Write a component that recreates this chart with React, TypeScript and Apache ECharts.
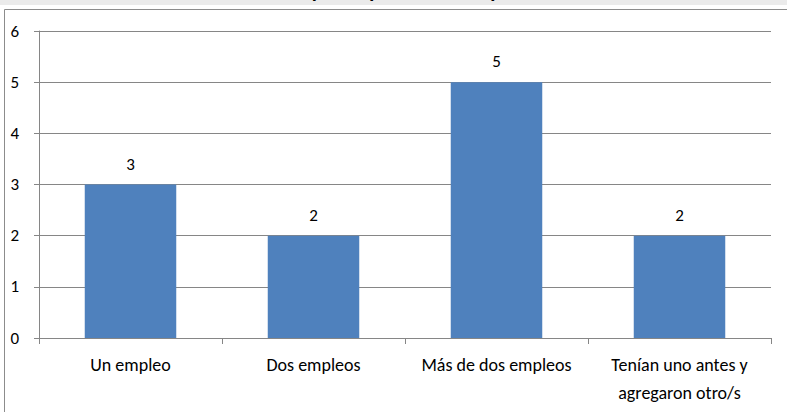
import React, { useEffect, useRef } from "react";
import * as echarts from "echarts";

const categories = [
  "Un empleo",
  "Dos empleos",
  "Más de dos empleos",
  "Tenían uno antes y\nagregaron otro/s",
];
const values = [3, 2, 5, 2];
const titleText = "Cantidad de empleos que tienen las personas";

const FONT = "Carlito, Calibri, Lato, 'Noto Sans', sans-serif";

export default function App() {
  const ref = useRef<HTMLDivElement>(null);
  useEffect(() => {
    document.body.style.margin = "0";
    const chart = echarts.init(ref.current!, undefined, { renderer: "svg" });
    chart.setOption({
      animation: false,
      backgroundColor: "#ffffff",
      graphic: [
        { type: "rect", shape: { x: 0, y: 0, width: 787, height: 5 }, style: { fill: "#ebebeb" }, z: -10 },
        {
          type: "rect",
          shape: { x: 4.5, y: 9.5, width: 800, height: 500 },
          style: { fill: "none", stroke: "#8c8c8c", lineWidth: 1 },
          z: -5,
        },
        {
          type: "text",
          x: 372,
          y: 1,
          style: {
            text: titleText,
            font: `bold 21px ${FONT}`,
            fill: "#000",
            align: "center",
            verticalAlign: "bottom",
          },
        },
      ],
      grid: { left: 39, right: 16, top: 31, bottom: 74, containLabel: false },
      xAxis: {
        type: "category",
        data: categories,
        axisLine: { show: true, lineStyle: { color: "#868686", width: 1 } },
        axisTick: { show: true, length: 6, alignWithLabel: false, lineStyle: { color: "#868686" } },
        axisLabel: {
          color: "#000",
          fontSize: 18,
          fontFamily: FONT,
          margin: 13,
          lineHeight: 28,
          interval: 0,
        },
        splitLine: { show: false },
      },
      yAxis: {
        type: "value",
        min: 0,
        max: 6,
        interval: 1,
        axisLine: { show: true, lineStyle: { color: "#868686", width: 1 } },
        axisTick: { show: true, length: 5, lineStyle: { color: "#868686" } },
        axisLabel: { color: "#000", fontSize: 17, fontFamily: FONT, margin: 20 },
        splitLine: { show: true, lineStyle: { color: "#868686", width: 1 } },
      },
      series: [
        {
          type: "bar",
          data: values,
          barCategoryGap: "50%",
          itemStyle: { color: "#4F81BD" },
          label: {
            show: true,
            position: "top",
            distance: 12,
            color: "#000",
            fontSize: 17,
            fontFamily: FONT,
          },
        },
      ],
    });
    return () => chart.dispose();
  }, []);
  return <div ref={ref} style={{ width: 787, height: 412 }} />;
}
